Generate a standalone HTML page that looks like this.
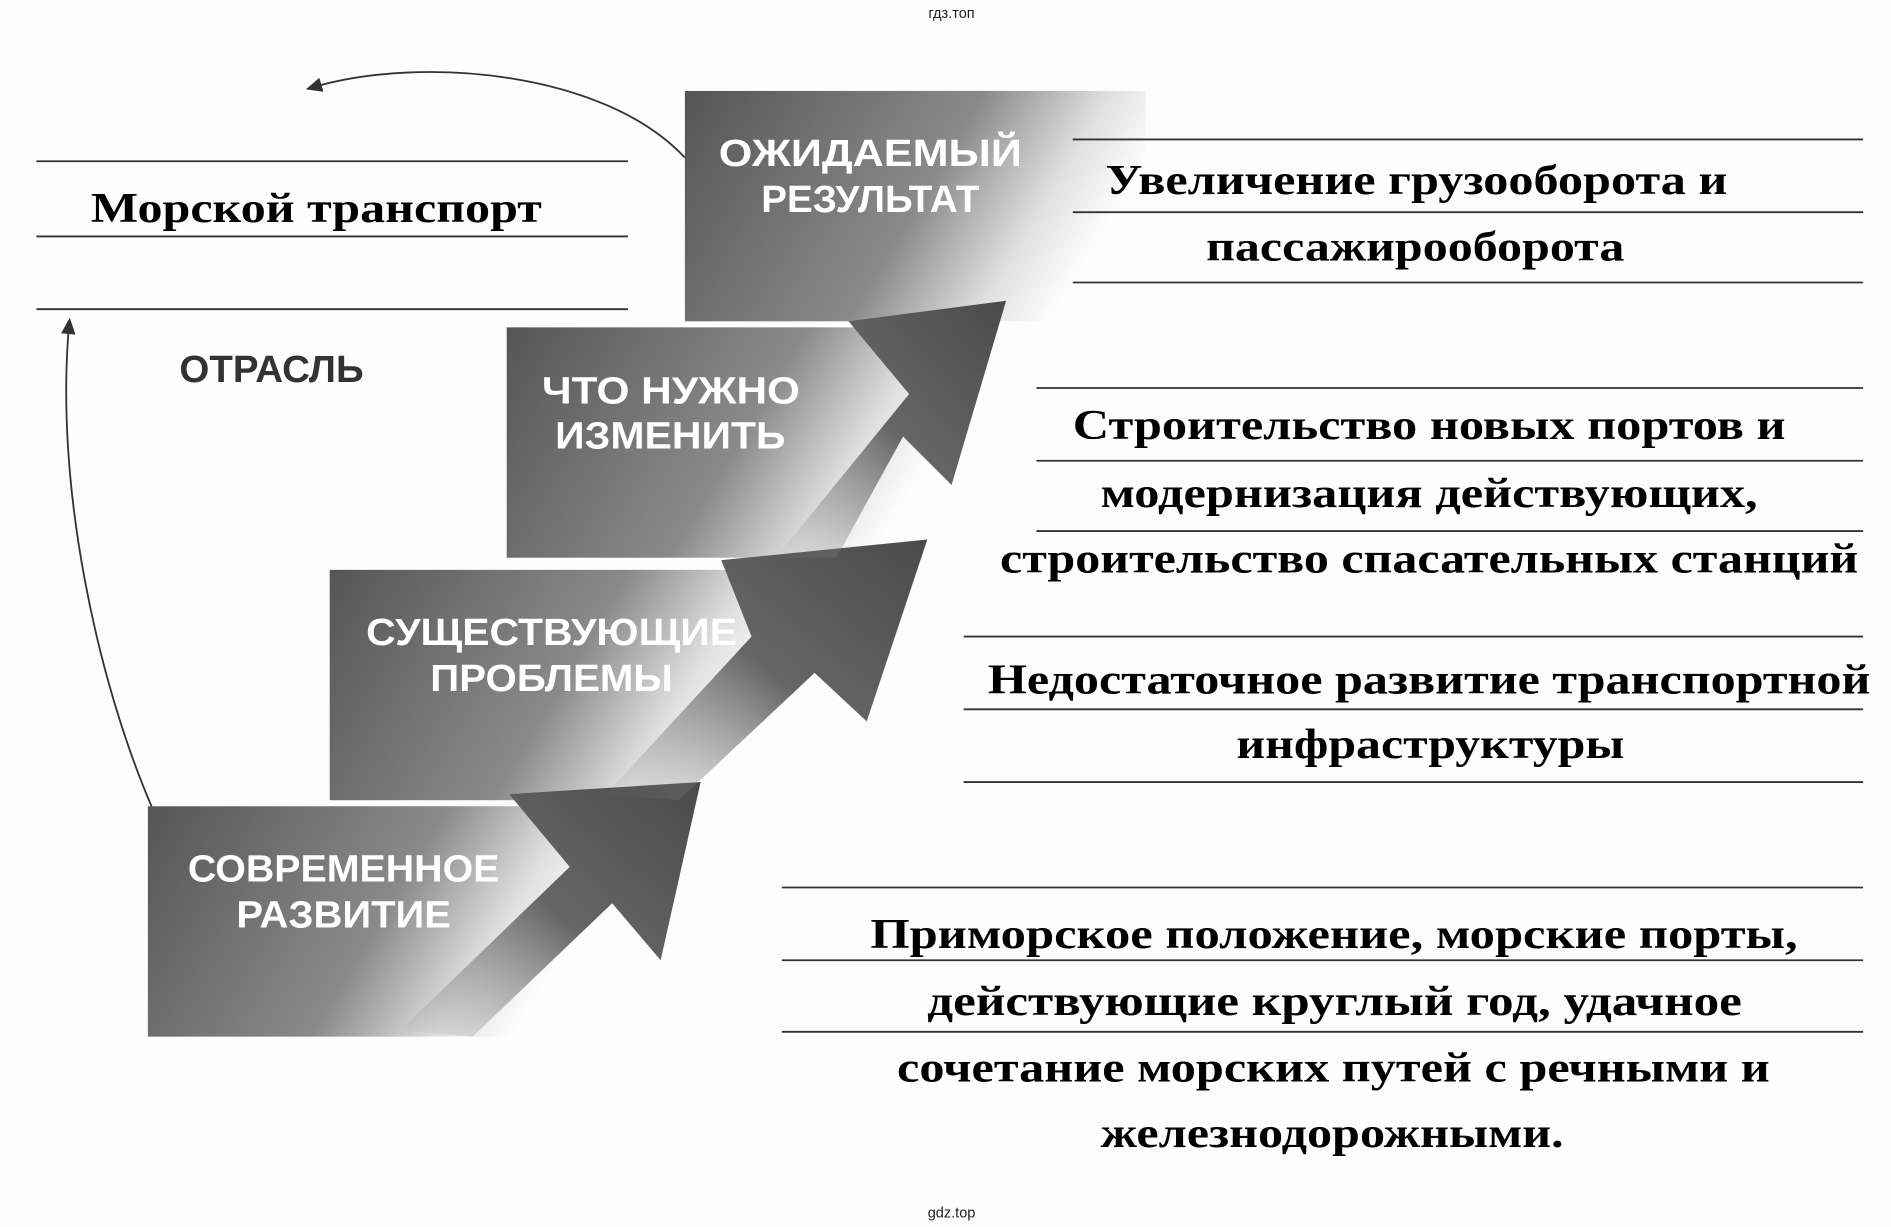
<!DOCTYPE html>
<html><head><meta charset="utf-8"><style>html,body{margin:0;padding:0;background:#fff}svg{display:block}</style></head>
<body>
<svg width="1891" height="1227" viewBox="0 0 1560 1012" preserveAspectRatio="none" xmlns="http://www.w3.org/2000/svg">
<defs>
<linearGradient id="g" x1="0" y1="0" x2="1" y2="0.3">
<stop offset="0" stop-color="#555"/><stop offset="0.6" stop-color="#8a8a8a"/><stop offset="0.85" stop-color="#e0e0e0"/><stop offset="1" stop-color="#fdfdfd"/>
</linearGradient>
<linearGradient id="a" x1="0" y1="1" x2="1" y2="0">
<stop offset="0" stop-color="#8a8a8a" stop-opacity="0"/><stop offset="0.5" stop-color="#666"/><stop offset="1" stop-color="#4a4a4a"/>
</linearGradient>
<marker id="m" markerWidth="10" markerHeight="10" refX="5" refY="5" orient="auto"><path d="M0,1 L9,5 L0,9 z" fill="#333"/></marker>
</defs>
<rect width="1560" height="1012" fill="#fdfdfd"/>
<text x="785" y="15" font-family="Liberation Sans, sans-serif" font-size="12" text-anchor="middle" fill="#222">гдз.топ</text>
<text x="785" y="1004" font-family="Liberation Sans, sans-serif" font-size="12" text-anchor="middle" fill="#222">gdz.top</text>

<rect x="565" y="75" width="380" height="190" fill="url(#g)"/>
<rect x="418" y="270" width="380" height="190" fill="url(#g)"/>
<rect x="272" y="470" width="380" height="190" fill="url(#g)"/>
<rect x="122" y="665" width="380" height="190" fill="url(#g)"/>

<polygon points="330,850 470,715 420,655 578,645 545,792 505,745 390,855" fill="url(#a)"/>
<polygon points="500,655 620,525 595,462 765,445 715,595 672,555 560,660" fill="url(#a)"/>
<polygon points="640,460 750,325 700,265 830,248 785,400 745,360 690,460" fill="url(#a)"/>

<g font-family="Liberation Sans, DejaVu Sans, sans-serif" font-weight="bold" font-size="31" fill="#fff">
<text x="593" y="137" textLength="250" lengthAdjust="spacingAndGlyphs">ОЖИДАЕМЫЙ</text>
<text x="628" y="175" textLength="180" lengthAdjust="spacingAndGlyphs">РЕЗУЛЬТАТ</text>
<text x="447" y="333" textLength="213" lengthAdjust="spacingAndGlyphs">ЧТО НУЖНО</text>
<text x="458" y="370" textLength="190" lengthAdjust="spacingAndGlyphs">ИЗМЕНИТЬ</text>
<text x="302" y="532" textLength="306" lengthAdjust="spacingAndGlyphs">СУЩЕСТВУЮЩИЕ</text>
<text x="355" y="570" textLength="200" lengthAdjust="spacingAndGlyphs">ПРОБЛЕМЫ</text>
<text x="155" y="727" textLength="257" lengthAdjust="spacingAndGlyphs">СОВРЕМЕННОЕ</text>
<text x="195" y="765" textLength="177" lengthAdjust="spacingAndGlyphs">РАЗВИТИЕ</text>
<text x="148" y="315" fill="#333" textLength="152" lengthAdjust="spacingAndGlyphs">ОТРАСЛЬ</text>
</g>

<path d="M125,665 C80,560 45,400 57,268" fill="none" stroke="#333" stroke-width="1.5" marker-end="url(#m)"/>
<path d="M565,130 C500,60 350,45 258,72" fill="none" stroke="#333" stroke-width="1.5" marker-end="url(#m)"/>

<g stroke="#333" stroke-width="1.5">
<line x1="30" y1="133" x2="518" y2="133"/><line x1="30" y1="195" x2="518" y2="195"/><line x1="30" y1="255" x2="518" y2="255"/>
<line x1="885" y1="115" x2="1537" y2="115"/><line x1="885" y1="175" x2="1537" y2="175"/><line x1="885" y1="233" x2="1537" y2="233"/>
<line x1="855" y1="320" x2="1537" y2="320"/><line x1="855" y1="380" x2="1537" y2="380"/><line x1="855" y1="438" x2="1537" y2="438"/>
<line x1="795" y1="525" x2="1537" y2="525"/><line x1="795" y1="585" x2="1537" y2="585"/><line x1="795" y1="645" x2="1537" y2="645"/>
<line x1="645" y1="732" x2="1537" y2="732"/><line x1="645" y1="792" x2="1537" y2="792"/><line x1="645" y1="851" x2="1537" y2="851"/>
</g>

<g font-family="Liberation Serif, DejaVu Serif, serif" font-weight="bold" font-size="35" fill="#000">
<text x="75" y="183" textLength="372" lengthAdjust="spacingAndGlyphs">Морской транспорт</text>
<text x="912" y="160" textLength="513" lengthAdjust="spacingAndGlyphs">Увеличение грузооборота и</text>
<text x="995" y="215" textLength="345" lengthAdjust="spacingAndGlyphs">пассажирооборота</text>
<text x="885" y="362" textLength="588" lengthAdjust="spacingAndGlyphs">Строительство новых портов и</text>
<text x="908" y="418" textLength="542" lengthAdjust="spacingAndGlyphs">модернизация действующих,</text>
<text x="825" y="472" textLength="708" lengthAdjust="spacingAndGlyphs">строительство спасательных станций</text>
<text x="815" y="572" textLength="728" lengthAdjust="spacingAndGlyphs">Недостаточное развитие транспортной</text>
<text x="1020" y="625" textLength="320" lengthAdjust="spacingAndGlyphs">инфраструктуры</text>
<text x="718" y="782" textLength="765" lengthAdjust="spacingAndGlyphs">Приморское положение, морские порты,</text>
<text x="765" y="837" textLength="672" lengthAdjust="spacingAndGlyphs">действующие круглый год, удачное</text>
<text x="740" y="892" textLength="720" lengthAdjust="spacingAndGlyphs">сочетание морских путей с речными и</text>
<text x="908" y="946" textLength="382" lengthAdjust="spacingAndGlyphs">железнодорожными.</text>
</g>
</svg>
</body></html>
